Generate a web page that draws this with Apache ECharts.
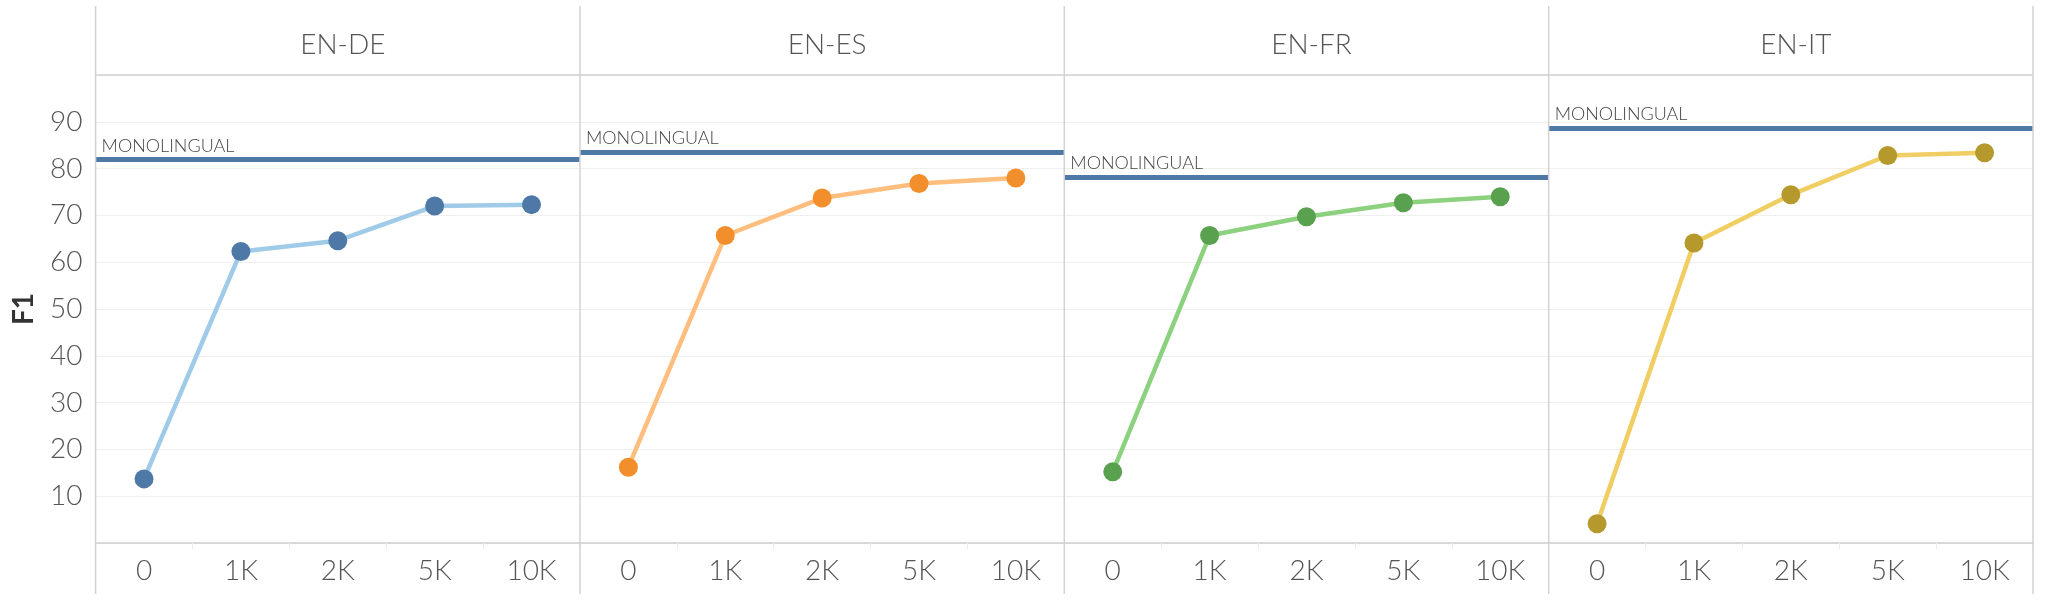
<!DOCTYPE html>
<html>
<head>
<meta charset="utf-8">
<script src="https://cdn.jsdelivr.net/npm/echarts@6/dist/echarts.min.js"></script>
<style>
  html, body { margin: 0; padding: 0; background: #fff; }
  #chart { width: 2053px; height: 609px; }
</style>
</head>
<body>
<div id="chart"></div>
<script>
// data
const categories = ['0', '1K', '2K', '5K', '10K']
const pairs = ['EN-DE', 'EN-ES', 'EN-FR', 'EN-IT']
const enDe = [13.7, 62.3, 64.6, 72.0, 72.3]
const enEs = [16.2, 65.7, 73.7, 76.8, 78.0]
const enFr = [15.2, 65.7, 69.7, 72.7, 74.0]
const enIt = [4.1, 64.1, 74.4, 82.8, 83.4]
const monolingual = [81.9, 83.6, 78.2, 88.7]
const seriesValues = [enDe, enEs, enFr, enIt]

// tableau-ish colours
const lineColors = ['#a0cbe8', '#ffbe7d', '#8cd17d', '#f1ce63']
const dotColors = ['#4e79a7', '#f28e2b', '#59a14f', '#b6992d']
const monoColor = '#4e79a7'

const FONT = 'Lato, "Open Sans", sans-serif'
const left0 = 95.6
const right0 = 2033
const panelW = (right0 - left0) / 4
const gridTop = 75
const gridBottom = 543

const chart = echarts.init(document.getElementById('chart'), null, {renderer: 'canvas'})

const grids = [], xAxes = [], yAxes = [], series = [], titles = [], graphics = []

pairs.forEach((p, i) => {
  const x = left0 + i * panelW
  grids.push({left: x, width: panelW, top: gridTop, height: gridBottom - gridTop})
  xAxes.push({
    type: 'category', gridIndex: i, data: categories, boundaryGap: true,
    axisLine: {show: true, lineStyle: {color: '#cfcfcf', width: 1.5}},
    axisTick: {show: true, length: 6, lineStyle: {color: '#ececec'}},
    axisLabel: {color: '#555', fontSize: 28, fontFamily: FONT, fontWeight: 300, margin: 14},
    splitLine: {show: false}
  })
  yAxes.push({
    type: 'value', gridIndex: i, min: 0, max: 100, interval: 10,
    name: i === 0 ? 'F1' : '', nameLocation: 'middle', nameGap: 58,
    nameTextStyle: {color: '#333', fontSize: 28, fontFamily: FONT, fontWeight: 'bold'},
    axisLine: {show: false}, axisTick: {show: false},
    axisLabel: {show: i === 0, color: '#555', fontSize: 28, fontFamily: FONT, fontWeight: 300, margin: 13,
      showMinLabel: false, showMaxLabel: false},
    splitLine: {show: true, lineStyle: {color: '#efefef', width: 1}}
  })
  series.push({
    type: 'line', xAxisIndex: i, yAxisIndex: i,
    data: seriesValues[i],
    symbol: 'circle', symbolSize: 19, showSymbol: true,
    lineStyle: {color: lineColors[i], width: 4.5},
    itemStyle: {color: dotColors[i]},
    z: 3,
    markLine: {
      silent: true, symbol: 'none',
      lineStyle: {color: monoColor, width: 5, type: 'solid'},
      label: {show: true, position: 'insideStartTop', formatter: 'MONOLINGUAL',
        color: '#444', fontSize: 18, fontFamily: FONT, fontWeight: 300, distance: [6, 5]},
      data: [{yAxis: monolingual[i]}]
    }
  })
  titles.push({
    text: p, left: x + panelW / 2, top: 26, textAlign: 'center',
    textStyle: {color: '#555', fontSize: 28, fontWeight: 300, fontFamily: FONT}
  })
})

// panel separators and header rule
for (let i = 0; i <= 4; i++) {
  const x = left0 + i * panelW
  graphics.push({type: 'line', shape: {x1: x, y1: 6, x2: x, y2: 594},
    style: {stroke: '#d2d2d2', lineWidth: 1.5}, z: 10})
}
graphics.push({type: 'line', shape: {x1: left0, y1: gridTop, x2: right0, y2: gridTop},
  style: {stroke: '#d2d2d2', lineWidth: 1.5}, z: 10})

chart.setOption({
  animation: false,
  backgroundColor: '#fff',
  title: titles,
  grid: grids,
  xAxis: xAxes,
  yAxis: yAxes,
  series: series,
  graphic: graphics
})
</script>
</body>
</html>
